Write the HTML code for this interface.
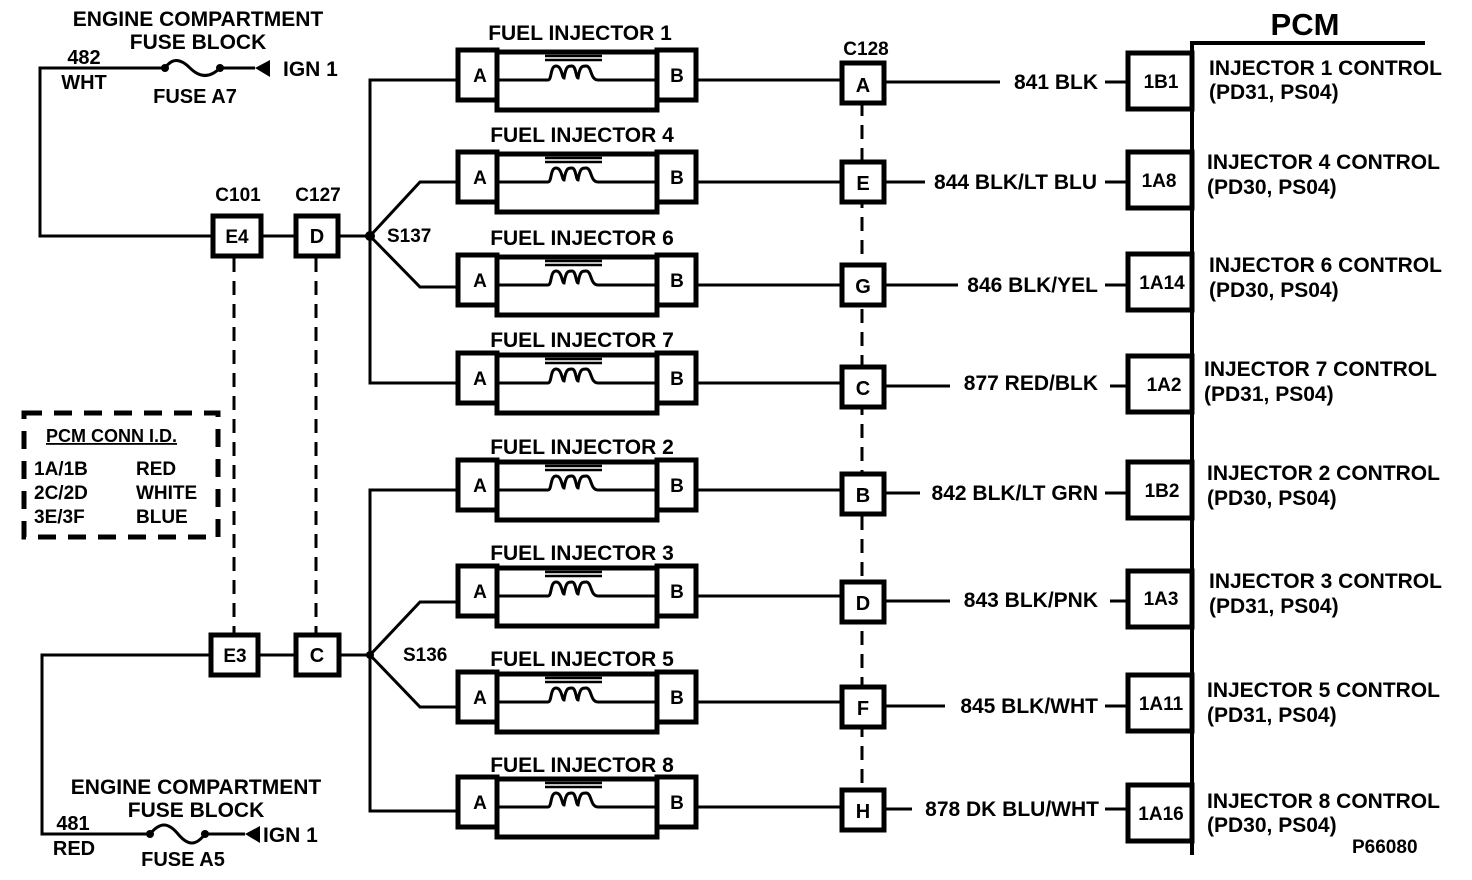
<!DOCTYPE html>
<html><head><meta charset="utf-8"><style>
html,body{margin:0;padding:0;background:#fff}
svg{display:block}
text{font-family:"Liberation Sans",Arial,sans-serif;font-weight:bold;fill:#000}
</style></head><body>
<svg width="1472" height="880" viewBox="0 0 1472 880" xmlns="http://www.w3.org/2000/svg">
<defs>
<g id="inj">
 <rect x="458" y="-30" width="39" height="50" fill="#fff" stroke="#000" stroke-width="5"/>
 <rect x="497" y="-28" width="160" height="58" fill="#fff" stroke="#000" stroke-width="5"/>
 <rect x="657" y="-30" width="39" height="50" fill="#fff" stroke="#000" stroke-width="5"/>
 <path d="M497 0 H548 C552 0 550 -14 556 -14 C562 -14 562 -2 564 -2 C566 -14 568 -14 572 -14 C576 -14 576 -2 578 -2 C580 -14 582 -14 586 -14 C592 -14 590 0 598 0 H657" fill="none" stroke="#000" stroke-width="3"/>
 <line x1="545" y1="-20" x2="602" y2="-20" stroke="#000" stroke-width="2.5"/>
 <line x1="545" y1="-24" x2="602" y2="-24" stroke="#000" stroke-width="2.5"/>
 <text x="480" y="2" font-size="19" text-anchor="middle">A</text>
 <text x="677" y="2" font-size="19" text-anchor="middle">B</text>
 <line x1="697" y1="0" x2="840" y2="0" stroke="#000" stroke-width="3"/>
</g>
</defs>
<g stroke="#000" fill="none" stroke-width="3">
 <polyline points="165,68 40,68 40,236 212,236"/>
 <line x1="220" y1="68" x2="255" y2="68"/>
 <path d="M165 68 C172 58 180 58 190 68 C200 78 210 78 220 68"/>
 <line x1="262" y1="236" x2="295" y2="236"/>
 <line x1="338" y1="236" x2="370" y2="236"/>
 <polyline points="420,80 370,80 370,383 458,383"/>
 <line x1="370" y1="80" x2="458" y2="80"/>
 <polyline points="370,236 420,182 458,182"/>
 <polyline points="370,236 420,287 458,287"/>
 <polyline points="150,834 42,834 42,655 210,655"/>
 <line x1="205" y1="834" x2="245" y2="834"/>
 <path d="M150 834 C160 822 168 822 178 834 C188 846 196 846 205 834"/>
 <line x1="258" y1="655" x2="295" y2="655"/>
 <line x1="340" y1="655" x2="370" y2="655"/>
 <polyline points="458,490 370,490 370,811 458,811"/>
 <polyline points="370,655 420,602 458,602"/>
 <polyline points="370,655 420,707 458,707"/>
 <line x1="234" y1="258" x2="234" y2="635" stroke-dasharray="14,9"/>
 <line x1="316" y1="258" x2="316" y2="635" stroke-dasharray="14,9"/>
 <line x1="862" y1="102" x2="862" y2="790" stroke-dasharray="14,9"/>
 <rect x="24" y="413" width="194" height="124" stroke-width="5" stroke-dasharray="18,12"/>
 <polyline points="1192,855 1192,43 1425,43" stroke-width="4"/>
</g>
<circle cx="165" cy="68" r="4"/><circle cx="220" cy="68" r="4"/>
<polygon points="255,68 270,60 270,77"/>
<circle cx="150" cy="834" r="4"/><circle cx="205" cy="834" r="4"/>
<polygon points="245,834 260,826 260,843"/>
<circle cx="370" cy="236" r="5"/><circle cx="370" cy="655" r="4"/>

<text x="198" y="26" font-size="21" text-anchor="middle">ENGINE COMPARTMENT</text>
<text x="198" y="49" font-size="21" text-anchor="middle">FUSE BLOCK</text>
<text x="84" y="64" font-size="20" text-anchor="middle">482</text>
<text x="84" y="89" font-size="20" text-anchor="middle">WHT</text>
<text x="195" y="103" font-size="20" text-anchor="middle">FUSE A7</text>
<text x="283" y="76" font-size="21">IGN 1</text>
<text x="196" y="794" font-size="21" text-anchor="middle">ENGINE COMPARTMENT</text>
<text x="196" y="817" font-size="21" text-anchor="middle">FUSE BLOCK</text>
<text x="73" y="830" font-size="20" text-anchor="middle">481</text>
<text x="74" y="855" font-size="20" text-anchor="middle">RED</text>
<text x="183" y="866" font-size="20" text-anchor="middle">FUSE A5</text>
<text x="263" y="842" font-size="21">IGN 1</text>

<g fill="#fff" stroke="#000" stroke-width="5">
 <rect x="213" y="216" width="48" height="40"/><rect x="296" y="216" width="42" height="40"/>
 <rect x="211" y="635" width="47" height="40"/><rect x="296" y="635" width="43" height="40"/>
</g>
<text x="238" y="201" font-size="19" text-anchor="middle">C101</text>
<text x="318" y="201" font-size="19" text-anchor="middle">C127</text>
<text x="237" y="243" font-size="19" text-anchor="middle">E4</text>
<text x="317" y="243" font-size="20" text-anchor="middle">D</text>
<text x="235" y="662" font-size="19" text-anchor="middle">E3</text>
<text x="317" y="662" font-size="20" text-anchor="middle">C</text>
<text x="387" y="242" font-size="19">S137</text>
<text x="403" y="661" font-size="19">S136</text>

<text x="46" y="442" font-size="18" text-decoration="underline">PCM CONN I.D.</text>
<text x="34" y="475" font-size="19">1A/1B</text><text x="136" y="475" font-size="19">RED</text>
<text x="34" y="499" font-size="19">2C/2D</text><text x="136" y="499" font-size="19">WHITE</text>
<text x="34" y="523" font-size="19">3E/3F</text><text x="136" y="523" font-size="19">BLUE</text>

<g transform="translate(0,80)"><use href="#inj"/></g>
<g transform="translate(0,182)"><use href="#inj"/></g>
<g transform="translate(0,285)"><use href="#inj"/></g>
<g transform="translate(0,383)"><use href="#inj"/></g>
<g transform="translate(0,490)"><use href="#inj"/></g>
<g transform="translate(0,596)"><use href="#inj"/></g>
<g transform="translate(0,702)"><use href="#inj"/></g>
<g transform="translate(0,807)"><use href="#inj"/></g>

<g font-size="21" text-anchor="middle">
<text x="580" y="40">FUEL INJECTOR 1</text>
<text x="582" y="142">FUEL INJECTOR 4</text>
<text x="582" y="245">FUEL INJECTOR 6</text>
<text x="582" y="347">FUEL INJECTOR 7</text>
<text x="582" y="454">FUEL INJECTOR 2</text>
<text x="582" y="560">FUEL INJECTOR 3</text>
<text x="582" y="666">FUEL INJECTOR 5</text>
<text x="582" y="772">FUEL INJECTOR 8</text>
</g>
<text x="866" y="55" font-size="19" text-anchor="middle">C128</text>

<g stroke="#000" stroke-width="3">
<line x1="884" y1="82" x2="1000" y2="82"/><line x1="1105" y1="82" x2="1128" y2="82"/>
<line x1="884" y1="182" x2="925" y2="182"/><line x1="1105" y1="182" x2="1128" y2="182"/>
<line x1="884" y1="285" x2="958" y2="285"/><line x1="1105" y1="285" x2="1128" y2="285"/>
<line x1="884" y1="386" x2="950" y2="386"/><line x1="1110" y1="386" x2="1128" y2="386"/>
<line x1="884" y1="493" x2="920" y2="493"/><line x1="1105" y1="493" x2="1128" y2="493"/>
<line x1="884" y1="601" x2="950" y2="601"/><line x1="1110" y1="601" x2="1128" y2="601"/>
<line x1="884" y1="706" x2="945" y2="706"/><line x1="1105" y1="706" x2="1128" y2="706"/>
<line x1="884" y1="809" x2="912" y2="809"/><line x1="1105" y1="809" x2="1128" y2="809"/>
</g>
<g fill="#fff" stroke="#000" stroke-width="5">
<rect x="842" y="63" width="42" height="40"/><rect x="842" y="162" width="42" height="40"/>
<rect x="842" y="265" width="42" height="40"/><rect x="842" y="367" width="42" height="40"/>
<rect x="842" y="474" width="42" height="40"/><rect x="842" y="582" width="42" height="40"/>
<rect x="842" y="687" width="42" height="40"/><rect x="842" y="790" width="42" height="40"/>
</g>
<g font-size="20" text-anchor="middle">
<text x="863" y="92">A</text><text x="863" y="190">E</text><text x="863" y="293">G</text><text x="863" y="395">C</text>
<text x="863" y="502">B</text><text x="863" y="610">D</text><text x="863" y="715">F</text><text x="863" y="818">H</text>
</g>
<g font-size="21" text-anchor="end">
<text x="1098" y="89">841 BLK</text>
<text x="1097" y="189">844 BLK/LT BLU</text>
<text x="1098" y="292">846 BLK/YEL</text>
<text x="1098" y="390">877 RED/BLK</text>
<text x="1098" y="500">842 BLK/LT GRN</text>
<text x="1098" y="607">843 BLK/PNK</text>
<text x="1098" y="713">845 BLK/WHT</text>
<text x="1099" y="816">878 DK BLU/WHT</text>
</g>
<g fill="#fff" stroke="#000" stroke-width="5">
<rect x="1128" y="53" width="64" height="56"/><rect x="1128" y="152" width="64" height="56"/>
<rect x="1128" y="254" width="64" height="56"/><rect x="1128" y="356" width="64" height="56"/>
<rect x="1128" y="462" width="64" height="56"/><rect x="1128" y="571" width="64" height="56"/>
<rect x="1128" y="675" width="64" height="56"/><rect x="1128" y="785" width="64" height="56"/>
</g>
<g font-size="19" text-anchor="middle">
<text x="1161" y="88">1B1</text><text x="1159" y="187">1A8</text><text x="1162" y="289">1A14</text><text x="1164" y="391">1A2</text>
<text x="1162" y="497">1B2</text><text x="1161" y="605">1A3</text><text x="1161" y="710">1A11</text><text x="1161" y="820">1A16</text>
</g>
<text x="1305" y="35" font-size="31" text-anchor="middle">PCM</text>
<g font-size="21">
<text x="1209" y="75">INJECTOR 1 CONTROL</text><text x="1209" y="99">(PD31, PS04)</text>
<text x="1207" y="169">INJECTOR 4 CONTROL</text><text x="1207" y="194">(PD30, PS04)</text>
<text x="1209" y="272">INJECTOR 6 CONTROL</text><text x="1209" y="297">(PD30, PS04)</text>
<text x="1204" y="376">INJECTOR 7 CONTROL</text><text x="1204" y="401">(PD31, PS04)</text>
<text x="1207" y="480">INJECTOR 2 CONTROL</text><text x="1207" y="505">(PD30, PS04)</text>
<text x="1209" y="588">INJECTOR 3 CONTROL</text><text x="1209" y="613">(PD31, PS04)</text>
<text x="1207" y="697">INJECTOR 5 CONTROL</text><text x="1207" y="722">(PD31, PS04)</text>
<text x="1207" y="808">INJECTOR 8 CONTROL</text><text x="1207" y="832">(PD30, PS04)</text>
</g>
<text x="1352" y="853" font-size="19">P66080</text>
</svg>
</body></html>
